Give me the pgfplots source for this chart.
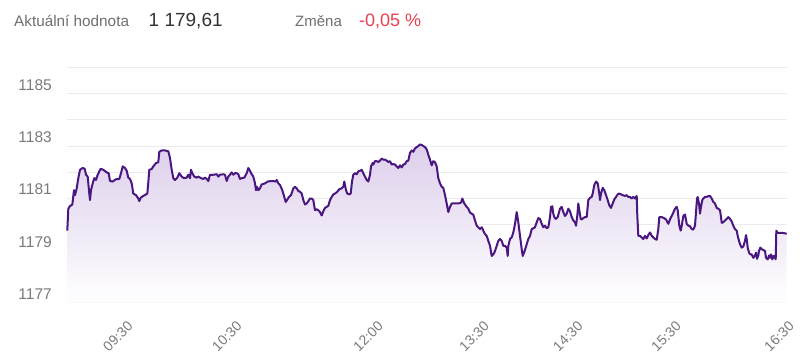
\documentclass[border=0pt]{standalone}
\usepackage{pgfplots}
\usepackage{pgfplotstable}
\pgfplotsset{compat=1.18}
\usepackage{fontspec}
\setmainfont{Liberation Sans}
\definecolor{linec}{HTML}{4A1780}
\definecolor{fillc}{HTML}{DDCFEC}
\definecolor{gridc}{HTML}{EBEBEF}
\definecolor{labc}{HTML}{6E6E6E}
\definecolor{valc}{HTML}{333333}
\definecolor{redc}{HTML}{E8404D}
\definecolor{tickc}{HTML}{7A7A7A}

\pgfplotstableread{
x v
67.3 1179.76
68.3 1180.60
70.0 1180.70
72.3 1180.76
74.0 1181.31
75.0 1181.12
76.7 1181.38
78.3 1181.77
80.0 1182.09
82.7 1182.16
84.7 1182.13
86.0 1181.90
87.7 1181.83
89.3 1181.18
90.0 1180.93
91.0 1181.31
92.7 1181.57
94.3 1181.77
96.0 1181.70
97.7 1181.90
99.3 1182.03
100.7 1182.13
103.3 1182.09
106.7 1181.99
108.7 1181.96
110.0 1181.66
112.7 1181.64
116.0 1181.73
119.3 1181.74
121.0 1181.96
122.7 1182.22
125.0 1182.16
126.7 1182.05
128.3 1181.79
130.0 1181.74
131.7 1181.57
133.3 1181.18
136.0 1181.12
138.3 1180.99
139.3 1180.89
140.7 1181.02
143.3 1181.09
146.0 1181.15
147.3 1181.18
148.3 1181.61
149.3 1182.09
151.7 1182.12
153.3 1182.22
156.0 1182.35
158.3 1182.38
159.3 1182.78
161.7 1182.83
165.0 1182.83
168.3 1182.80
170.0 1182.54
171.7 1182.09
173.3 1181.77
175.0 1181.70
177.3 1181.79
179.3 1181.96
181.7 1181.83
184.0 1181.77
186.7 1181.79
188.3 1181.90
190.0 1181.77
191.0 1182.09
192.3 1181.96
194.3 1181.83
196.7 1181.79
198.3 1181.83
201.0 1181.77
203.3 1181.74
205.0 1181.79
206.7 1181.74
208.3 1181.66
210.0 1181.90
213.3 1181.90
216.7 1181.92
218.3 1181.83
220.0 1181.90
223.3 1181.92
225.0 1181.90
226.7 1181.66
228.3 1181.83
230.0 1181.90
231.7 1181.99
233.3 1181.90
235.0 1181.96
236.7 1181.96
238.3 1181.92
240.0 1181.74
241.7 1181.77
244.3 1181.79
246.7 1181.96
248.3 1182.16
250.0 1182.05
251.7 1181.92
253.3 1181.83
255.0 1181.57
256.0 1181.31
257.0 1181.44
258.3 1181.31
260.0 1181.38
261.7 1181.53
265.0 1181.57
267.7 1181.64
271.0 1181.66
273.3 1181.66
275.7 1181.64
276.7 1181.70
278.3 1181.57
280.0 1181.51
282.3 1181.31
284.3 1181.05
285.7 1180.86
287.0 1180.93
289.0 1181.05
291.0 1181.12
293.3 1181.38
295.0 1181.44
296.7 1181.38
298.3 1181.28
300.0 1181.25
301.7 1181.18
303.3 1180.93
305.0 1180.76
306.7 1180.80
308.3 1180.89
310.0 1180.99
311.7 1180.99
313.3 1180.93
315.0 1180.54
316.7 1180.58
318.3 1180.54
320.0 1180.47
321.7 1180.34
323.3 1180.50
325.0 1180.63
326.7 1180.67
328.3 1180.71
330.0 1180.93
331.7 1181.05
333.3 1181.15
335.0 1181.18
337.3 1181.25
339.3 1181.35
341.7 1181.38
343.3 1181.44
344.3 1181.64
346.0 1181.31
347.3 1181.18
349.3 1181.15
350.7 1181.18
352.0 1181.64
353.3 1181.90
355.0 1181.96
356.7 1181.92
358.3 1182.03
360.0 1182.05
361.7 1182.09
363.3 1181.96
365.0 1181.83
366.7 1181.70
368.3 1181.64
370.0 1181.90
371.0 1182.22
372.7 1182.35
373.3 1182.29
375.0 1182.42
376.7 1182.42
378.3 1182.39
380.0 1182.44
381.7 1182.52
383.3 1182.48
385.0 1182.48
386.7 1182.44
388.3 1182.39
390.0 1182.42
391.7 1182.29
393.3 1182.31
395.0 1182.29
396.7 1182.22
398.3 1182.16
400.0 1182.26
401.7 1182.18
403.3 1182.29
405.0 1182.31
406.7 1182.42
408.3 1182.44
410.0 1182.74
411.7 1182.83
413.3 1182.78
415.0 1182.91
416.7 1182.96
418.3 1183.00
420.0 1183.06
421.7 1183.04
423.3 1183.00
425.0 1182.96
426.7 1182.87
428.3 1182.67
430.0 1182.48
431.7 1182.26
433.3 1182.42
435.0 1182.38
436.7 1182.22
438.3 1181.77
440.0 1181.57
441.7 1181.44
443.3 1181.40
445.0 1181.12
446.7 1180.80
448.3 1180.47
450.0 1180.67
451.7 1180.80
455.0 1180.80
458.3 1180.80
461.0 1180.83
462.3 1180.99
464.3 1180.80
466.7 1180.67
468.3 1180.60
470.0 1180.45
471.7 1180.41
473.3 1180.37
475.0 1180.15
476.7 1179.95
478.3 1179.89
480.0 1179.82
481.7 1179.89
483.3 1179.76
485.0 1179.63
486.7 1179.56
488.3 1179.37
490.0 1179.18
491.7 1178.79
493.3 1178.85
495.0 1178.98
496.7 1179.18
498.3 1179.37
500.0 1179.44
501.7 1179.37
503.3 1179.18
505.0 1179.18
506.7 1179.11
507.7 1178.79
508.3 1179.18
510.0 1179.44
511.7 1179.50
513.3 1179.69
515.0 1180.02
516.7 1180.47
518.3 1180.08
520.0 1179.56
521.7 1179.05
522.7 1178.79
524.3 1178.94
525.7 1179.11
526.7 1179.24
528.3 1179.44
530.0 1179.56
531.7 1179.82
533.3 1179.85
535.0 1179.89
536.7 1180.08
538.3 1180.24
540.0 1180.21
541.7 1180.02
543.3 1179.89
545.0 1179.95
546.7 1179.85
548.3 1179.89
550.0 1180.28
551.0 1180.67
552.3 1180.69
553.3 1180.41
554.3 1180.28
555.7 1180.21
557.7 1180.28
560.0 1180.60
561.7 1180.67
563.3 1180.47
565.0 1180.32
566.7 1180.41
568.3 1180.60
570.0 1180.50
571.7 1180.28
573.3 1180.15
575.0 1180.08
576.0 1179.95
577.3 1180.34
578.3 1180.80
579.3 1180.54
580.7 1180.21
581.7 1180.19
583.3 1180.24
585.0 1180.28
586.7 1180.28
588.3 1180.93
590.0 1181.02
591.7 1181.05
592.7 1181.18
594.3 1181.51
596.0 1181.64
597.7 1181.57
599.3 1181.18
600.0 1180.93
601.0 1181.18
602.7 1181.40
604.3 1181.31
606.0 1181.12
607.7 1180.93
609.3 1180.73
611.0 1180.63
612.7 1180.80
614.3 1180.96
616.0 1181.05
617.7 1181.15
619.3 1181.18
621.0 1181.15
622.7 1181.12
625.0 1181.09
626.7 1181.12
628.3 1181.05
630.0 1181.05
631.7 1180.99
633.3 1181.05
635.0 1180.99
636.7 1181.09
637.3 1180.34
638.3 1179.56
640.0 1179.56
641.7 1179.50
643.3 1179.44
645.0 1179.56
646.7 1179.46
648.3 1179.59
650.0 1179.69
651.7 1179.56
653.3 1179.50
655.0 1179.44
656.7 1179.41
658.3 1179.82
659.3 1180.28
661.7 1180.28
664.0 1180.24
666.0 1180.19
668.3 1180.02
670.0 1180.19
671.7 1180.32
673.3 1180.45
675.0 1180.60
676.7 1180.67
677.7 1180.54
679.3 1179.95
680.7 1179.76
681.7 1179.95
683.3 1180.32
685.0 1180.38
686.7 1180.02
688.3 1179.95
690.0 1179.93
691.7 1179.82
693.3 1179.80
695.0 1179.95
696.0 1180.47
697.0 1180.99
697.7 1181.05
699.0 1180.80
700.0 1180.41
701.0 1180.67
702.3 1180.93
703.3 1180.99
705.0 1181.05
706.7 1181.05
708.3 1181.08
710.0 1181.09
711.7 1180.99
713.3 1180.86
715.0 1180.80
716.7 1180.63
718.3 1180.60
720.0 1180.54
721.0 1180.28
721.7 1180.06
723.3 1180.08
725.0 1180.15
726.7 1180.21
728.3 1180.28
730.0 1180.21
731.7 1180.11
733.3 1179.95
735.0 1179.82
736.7 1179.76
737.7 1179.56
739.0 1179.37
740.0 1179.24
741.7 1179.11
743.3 1179.15
745.0 1179.37
746.0 1179.59
746.7 1179.44
747.7 1179.11
749.0 1178.92
750.3 1178.85
751.7 1178.85
753.3 1178.72
755.0 1178.81
756.0 1178.92
757.0 1178.68
758.3 1178.81
759.0 1178.98
760.3 1179.11
761.7 1179.05
763.3 1179.02
765.0 1178.98
766.0 1178.72
767.7 1178.66
769.0 1178.81
770.0 1178.72
771.0 1178.85
772.3 1178.66
773.3 1178.79
774.3 1178.72
775.0 1178.81
775.7 1178.66
776.3 1179.76
777.7 1179.67
780.0 1179.67
783.3 1179.67
786.7 1179.64
}\pricedata

\begin{document}
\begin{tikzpicture}[x=1pt,y=1pt]
\path[use as bounding box] (0,0) rectangle (800,360);
\begin{axis}[
  at={(67pt,57.3pt)}, anchor=south west,
  width=720pt, height=235pt, scale only axis,
  xmin=67, xmax=787, ymin=1177, ymax=1186,
  axis line style={draw=none},
  major tick length=0pt,
  ytick={1177,1178,...,1186},
  yticklabels={1177,,1179,,1181,,1183,,1185,},
  ymajorgrids, grid style={color=gridc, line width=0.9pt},
  yticklabel style={anchor=base east, inner sep=0pt, xshift=-15pt, yshift=3.3pt, text=tickc, font=\fontsize{15.5}{15.5}\selectfont},
  xtick={122.7,231.7,373,479,572.7,671,784},
  xticklabels={09:30,10:30,12:00,13:30,14:30,15:30,16:30},
  xticklabel style={xshift=4pt, yshift=-17.5pt, rotate=45, anchor=north east, inner sep=0pt, text=tickc, font=\fontsize{14}{14}\selectfont},
  clip=false,
]
\addplot[draw=none, top color=fillc, bottom color=white] table[x=x,y=v] {\pricedata} -- (axis cs:786.7,1177) -- (axis cs:67.3,1177) -- cycle;
\addplot[color=linec, line width=2pt, line join=round, no marks] table[x=x,y=v] {\pricedata};
\end{axis}
\node[anchor=base west, inner sep=0pt, text=labc, font=\fontsize{15.3}{15.3}\selectfont] at (14,333.5) {Aktuální hodnota};
\node[anchor=base west, inner sep=0pt, text=valc, font=\fontsize{19}{19}\selectfont] at (148.5,333.5) {1 179,61};
\node[anchor=base west, inner sep=0pt, text=labc, font=\fontsize{15}{15}\selectfont] at (295,333.5) {Změna};
\node[anchor=base west, inner sep=0pt, text=redc, font=\fontsize{18}{18}\selectfont] at (359,333.5) {-0,05 \%};
\end{tikzpicture}
\end{document}
